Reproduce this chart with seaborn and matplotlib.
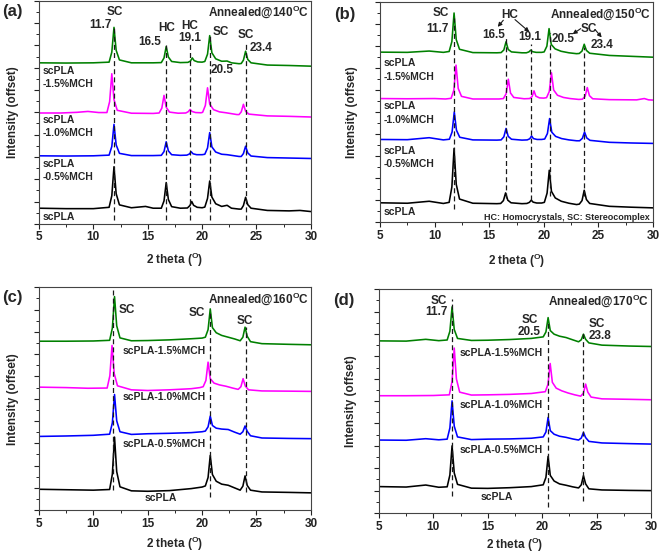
import numpy as np
import pandas as pd
import matplotlib
matplotlib.use("Agg")
import matplotlib.pyplot as plt
import seaborn as sns
from matplotlib.ticker import MultipleLocator

sns.set_theme(style="ticks")
plt.rcParams['font.family'] = ['Liberation Sans', 'DejaVu Sans']
plt.rcParams['font.weight'] = 'bold'
plt.rcParams['axes.labelweight'] = 'bold'
plt.rcParams['mathtext.fontset'] = 'custom'
plt.rcParams['mathtext.bf'] = 'Liberation Sans:bold'

BLACK, BLUE, MAGENTA, GREEN = "#000000", "#0000ff", "#ff00ff", "#008000"

# ---- (a) annealed at 140 C ----
a_x_scpla = [5.0, 7.5, 10.0, 11.45, 11.7, 11.9, 12.1, 12.4, 13.5, 14.8, 15.5, 16.25, 16.5, 16.7, 16.9, 17.2, 18.0, 18.65, 18.88, 19.05, 19.22, 19.55, 20.0, 20.25, 20.5, 20.7, 20.9, 21.25, 21.8, 22.3, 22.7, 23.4, 23.6, 23.8, 24.0, 24.2, 24.5, 26.0, 28.0, 29.0, 30.0]
a_y_scpla = [0.70, 0.68, 0.68, 0.74, 1.26, 2.56, 1.35, 0.85, 0.72, 0.78, 0.70, 0.70, 1.03, 1.85, 1.09, 0.77, 0.70, 0.71, 0.82, 1.00, 0.83, 0.74, 0.72, 0.75, 1.14, 1.92, 1.20, 0.90, 0.78, 0.83, 0.70, 0.66, 0.66, 0.82, 1.19, 0.86, 0.70, 0.60, 0.58, 0.60, 0.55]
a_x_05 = [5.0, 7.5, 10.0, 11.45, 11.7, 11.9, 12.1, 12.4, 13.5, 15.5, 16.25, 16.5, 16.7, 16.9, 17.2, 18.0, 18.6, 18.83, 19.0, 19.17, 19.5, 20.0, 20.25, 20.5, 20.7, 20.9, 21.25, 21.8, 22.3, 23.4, 23.6, 23.8, 24.0, 24.2, 24.5, 26.0, 28.0, 30.0]
a_y_05 = [3.05, 3.04, 3.05, 3.08, 3.47, 4.46, 3.54, 3.16, 3.06, 3.06, 3.07, 3.24, 3.68, 3.27, 3.10, 3.07, 3.08, 3.13, 3.23, 3.14, 3.10, 3.10, 3.12, 3.40, 4.09, 3.45, 3.22, 3.12, 3.10, 3.02, 3.02, 3.15, 3.48, 3.18, 3.04, 2.97, 2.95, 2.93]
a_x_10 = [5.0, 7.0, 8.5, 9.5, 10.5, 11.25, 11.5, 11.7, 11.9, 12.2, 13.5, 15.5, 16.05, 16.3, 16.5, 16.7, 17.0, 17.8, 18.5, 18.73, 18.9, 19.07, 19.4, 19.9, 20.05, 20.3, 20.5, 20.7, 21.05, 21.6, 22.2, 23.2, 23.4, 23.6, 23.8, 24.0, 24.3, 26.0, 28.0, 30.0]
a_y_10 = [4.97, 4.97, 5.00, 5.04, 4.99, 4.99, 5.48, 6.73, 5.57, 5.09, 4.96, 4.95, 4.97, 5.19, 5.76, 5.23, 5.01, 4.96, 4.97, 5.03, 5.13, 5.04, 4.99, 4.98, 5.00, 5.31, 6.10, 5.37, 5.12, 5.02, 4.98, 4.90, 4.90, 5.02, 5.36, 5.05, 4.92, 4.84, 4.82, 4.79]
a_x_15 = [5.0, 7.5, 10.0, 11.45, 11.7, 11.9, 12.1, 12.4, 13.5, 15.5, 16.25, 16.5, 16.7, 16.9, 17.2, 18.0, 18.7, 18.93, 19.1, 19.27, 19.6, 20.0, 20.25, 20.5, 20.7, 20.9, 21.25, 21.8, 22.3, 22.7, 23.4, 23.6, 23.8, 24.0, 24.2, 24.5, 26.0, 28.0, 30.0]
a_y_15 = [7.22, 7.21, 7.22, 7.25, 7.70, 8.81, 7.78, 7.35, 7.22, 7.22, 7.23, 7.44, 7.95, 7.48, 7.28, 7.23, 7.24, 7.30, 7.44, 7.32, 7.26, 7.25, 7.28, 7.61, 8.44, 7.67, 7.40, 7.29, 7.30, 7.22, 7.18, 7.19, 7.34, 7.74, 7.37, 7.22, 7.12, 7.10, 7.07]
a_dash_x = [11.9, 16.7, 18.85, 20.7, 24.0]
a_dash_top = [8.8, 8.0, 8.1, 8.5, 8.05]
a_dash_bot = [0.18, 0.18, 0.18, 0.18, 0.18]

# ---- (b) annealed at 150 C ----
b_x_scpla = [5.0, 7.5, 9.5, 10.8, 11.33, 11.58, 11.78, 11.98, 12.28, 13.5, 15.7, 16.05, 16.3, 16.5, 16.7, 17.0, 18.0, 18.45, 18.68, 18.85, 19.02, 19.35, 19.8, 20.05, 20.3, 20.5, 20.7, 21.05, 21.6, 22.3, 23.0, 23.25, 23.5, 23.7, 23.9, 24.2, 26.0, 28.0, 30.0]
b_y_scpla = [0.88, 0.86, 0.95, 0.85, 0.90, 1.60, 3.35, 1.72, 1.05, 0.86, 0.84, 0.85, 0.98, 1.33, 1.00, 0.88, 0.84, 0.85, 0.90, 1.00, 0.91, 0.87, 0.87, 0.90, 1.32, 2.36, 1.40, 1.10, 0.95, 0.86, 0.80, 0.82, 0.98, 1.45, 1.03, 0.85, 0.72, 0.68, 0.65]
b_x_05 = [5.0, 7.5, 9.5, 10.8, 11.35, 11.6, 11.8, 12.0, 12.3, 13.5, 15.7, 16.09, 16.34, 16.54, 16.74, 17.04, 18.0, 18.48, 18.71, 18.88, 19.05, 19.38, 19.8, 20.08, 20.33, 20.53, 20.73, 21.08, 21.63, 22.3, 23.0, 23.28, 23.53, 23.73, 23.93, 24.23, 26.0, 28.0, 30.0]
b_y_05 = [3.76, 3.75, 3.84, 3.74, 3.77, 4.10, 5.01, 4.18, 3.86, 3.74, 3.73, 3.74, 3.88, 4.26, 3.90, 3.77, 3.73, 3.74, 3.79, 3.92, 3.80, 3.76, 3.76, 3.78, 4.03, 4.71, 4.09, 3.90, 3.80, 3.74, 3.70, 3.70, 3.81, 4.10, 3.83, 3.72, 3.63, 3.60, 3.58]
b_x_10 = [5.0, 7.5, 10.0, 11.0, 11.51, 11.76, 11.96, 12.16, 12.46, 13.5, 15.9, 16.3, 16.55, 16.75, 16.95, 17.25, 18.2, 18.7, 18.93, 19.1, 19.27, 19.6, 20.0, 20.25, 20.5, 20.7, 20.9, 21.25, 21.8, 22.4, 23.2, 23.53, 23.78, 23.98, 24.18, 24.48, 26.0, 28.5, 29.2, 29.6, 30.0]
b_y_10 = [5.62, 5.61, 5.62, 5.60, 5.63, 6.00, 7.14, 6.08, 5.72, 5.60, 5.60, 5.62, 5.84, 6.50, 5.87, 5.67, 5.61, 5.62, 5.71, 5.97, 5.73, 5.65, 5.64, 5.66, 5.94, 6.79, 6.01, 5.77, 5.67, 5.62, 5.58, 5.59, 5.72, 6.12, 5.75, 5.61, 5.57, 5.56, 5.62, 5.56, 5.55]
b_x_15 = [5.0, 7.5, 9.5, 10.8, 11.33, 11.58, 11.78, 11.98, 12.28, 13.5, 15.7, 16.09, 16.34, 16.54, 16.74, 17.04, 18.0, 18.4, 18.63, 18.8, 18.97, 19.3, 19.8, 20.03, 20.28, 20.48, 20.68, 21.03, 21.58, 22.3, 23.0, 23.25, 23.5, 23.7, 23.9, 24.2, 26.0, 28.0, 30.0]
b_y_15 = [7.73, 7.72, 7.78, 7.72, 7.76, 8.21, 9.51, 8.30, 7.86, 7.71, 7.70, 7.71, 7.83, 8.20, 7.85, 7.74, 7.70, 7.70, 7.74, 7.82, 7.75, 7.72, 7.72, 7.74, 8.00, 8.80, 8.08, 7.88, 7.77, 7.70, 7.66, 7.67, 7.78, 8.09, 7.81, 7.68, 7.58, 7.54, 7.50]
b_dash_x = [11.78, 16.52, 18.8, 20.55, 23.72]
b_dash_top = [9.3, 8.4, 8.1, 8.6, 7.95]
b_dash_bot = [0.6, 1.1, 1.0, 1.2, 1.2]

# ---- (c) annealed at 160 C ----
c_x = [5.0, 7.5, 10.0, 11.5, 11.75, 11.95, 12.15, 12.45, 13.5, 15.0, 17.0, 19.0, 20.0, 20.3, 20.55, 20.75, 20.95, 21.3, 21.8, 22.4, 23.0, 23.5, 23.75, 23.95, 24.15, 24.45, 25.5, 28.0, 30.0]
c_y_scpla = [0.94, 0.92, 0.90, 0.93, 1.62, 3.28, 1.73, 1.05, 0.87, 0.85, 0.88, 0.97, 1.04, 1.09, 1.47, 2.46, 1.60, 1.30, 1.17, 1.12, 1.00, 0.90, 1.08, 1.54, 1.11, 0.90, 0.82, 0.80, 0.78]
c_y_05 = [3.31, 3.33, 3.36, 3.41, 3.92, 5.19, 4.01, 3.52, 3.40, 3.43, 3.45, 3.48, 3.52, 3.55, 3.74, 4.22, 3.80, 3.68, 3.64, 3.62, 3.50, 3.41, 3.52, 3.78, 3.54, 3.34, 3.24, 3.22, 3.21]
c_y_15 = [7.58, 7.58, 7.59, 7.62, 8.17, 9.58, 8.27, 7.73, 7.60, 7.61, 7.64, 7.69, 7.72, 7.76, 8.10, 9.03, 8.19, 7.96, 7.84, 7.76, 7.68, 7.60, 7.76, 8.21, 7.80, 7.56, 7.47, 7.44, 7.42]
c_x_10 = [5.0, 7.5, 9.5, 11.27, 11.52, 11.72, 11.92, 12.22, 13.5, 15.0, 17.0, 19.0, 19.8, 20.1, 20.35, 20.55, 20.75, 21.1, 21.6, 22.2, 22.8, 23.32, 23.57, 23.77, 23.97, 24.27, 25.5, 28.0, 30.0]
c_y_10 = [5.52, 5.50, 5.47, 5.48, 6.03, 7.39, 6.13, 5.58, 5.40, 5.37, 5.40, 5.45, 5.50, 5.54, 5.82, 6.64, 5.90, 5.70, 5.62, 5.56, 5.48, 5.42, 5.54, 5.90, 5.57, 5.40, 5.35, 5.34, 5.33]
c_dash_x = [11.85, 20.7, 24.0]
c_dash_top = [10.0, 9.0, 8.2]
c_dash_bot = [0.9, 0.6, 0.82]

# ---- (d) annealed at 170 C ----
d_x = [5.0, 7.5, 9.3, 10.5, 11.27, 11.52, 11.72, 11.92, 12.22, 13.5, 15.0, 17.0, 19.0, 20.1, 20.35, 20.55, 20.75, 21.1, 21.6, 22.2, 22.8, 23.35, 23.6, 23.8, 24.0, 24.3, 25.5, 28.0, 30.0]
d_y_scpla = [1.18, 1.16, 1.25, 1.15, 1.17, 1.70, 3.00, 1.79, 1.28, 1.11, 1.10, 1.13, 1.18, 1.26, 1.59, 2.53, 1.68, 1.43, 1.30, 1.24, 1.17, 1.12, 1.26, 1.67, 1.30, 1.08, 1.03, 1.01, 1.00]
d_y_05 = [3.26, 3.25, 3.32, 3.27, 3.30, 3.80, 5.01, 3.88, 3.40, 3.28, 3.30, 3.31, 3.34, 3.40, 3.62, 4.27, 3.68, 3.52, 3.43, 3.38, 3.31, 3.26, 3.35, 3.60, 3.37, 3.20, 3.13, 3.10, 3.08]
d_y_15 = [7.69, 7.68, 7.76, 7.70, 7.73, 8.12, 9.21, 8.20, 7.80, 7.71, 7.72, 7.75, 7.80, 7.87, 8.09, 8.73, 8.15, 7.99, 7.90, 7.84, 7.74, 7.65, 7.74, 7.99, 7.76, 7.60, 7.50, 7.46, 7.44]
d_x_10 = [5.0, 7.5, 10.0, 11.47, 11.72, 11.92, 12.12, 12.42, 13.5, 15.0, 17.0, 19.0, 20.29, 20.54, 20.74, 20.94, 21.29, 21.8, 22.4, 23.0, 23.55, 23.8, 24.0, 24.2, 24.5, 25.5, 28.0, 30.0]
d_y_10 = [5.24, 5.24, 5.25, 5.28, 5.88, 7.37, 5.99, 5.40, 5.27, 5.28, 5.30, 5.34, 5.42, 5.75, 6.68, 5.84, 5.58, 5.46, 5.36, 5.28, 5.22, 5.36, 5.76, 5.40, 5.18, 5.10, 5.08, 5.06]
d_dash_x = [11.75, 20.55, 23.8]
d_dash_top = [9.55, 8.5, 8.07]
d_dash_bot = [0.77, 0.25, 0.52]

FS = 8.5
deg = r"$^\mathbf{O}$"

fig = plt.figure(figsize=(6.6, 5.54), dpi=100)
ax_a = fig.add_axes([0.059, 0.596, 0.412, 0.4025])
ax_b = fig.add_axes([0.5758, 0.599, 0.4136, 0.397])
ax_c = fig.add_axes([0.059, 0.079, 0.412, 0.4025])
ax_d = fig.add_axes([0.5742, 0.074, 0.412, 0.404])


def setup(ax, curves, dx, dtop, dbot, temp, letter, letter_xy, ylab_x, xlab_y):
    for x, y, c in curves:
        sns.lineplot(x=x, y=y, ax=ax, color=c, lw=1.15, estimator=None, sort=False)
    ax.vlines(dx, dbot, dtop, colors='k', linestyles=(0, (4, 2.5)), lw=0.9)
    ax.set_xlim(5, 30)
    ax.set_ylim(0, 10)
    ax.xaxis.set_major_locator(MultipleLocator(5))
    ax.xaxis.set_minor_locator(MultipleLocator(2.5))
    ax.yaxis.set_major_locator(MultipleLocator(1))
    ax.yaxis.set_minor_locator(MultipleLocator(0.5))
    ax.tick_params(which='major', direction='out', length=3.5, width=0.8, pad=2,
                   labelsize=FS, colors='#222222')
    ax.tick_params(which='minor', direction='out', length=2, width=0.7)
    ax.set_yticklabels([])
    for s in ax.spines.values():
        s.set_linewidth(0.8)
        s.set_color('#444444')
        s.set_visible(True)
    ax.set_xlabel("2 theta (" + deg + ")", fontsize=FS, fontweight='bold')
    ax.set_ylabel("Intensity (offset)", fontsize=FS, fontweight='bold')
    ax.xaxis.set_label_coords(0.5, xlab_y)
    ax.yaxis.set_label_coords(ylab_x, 0.5)
    ax.text(29.8, 9.5, "Annealed@" + temp + deg + "C", ha='right', va='center',
            fontsize=FS, fontweight='bold')
    ax.text(letter_xy[0], letter_xy[1], letter, transform=ax.transAxes, ha='center',
            va='center', fontsize=12, fontweight='bold')


setup(ax_a, [(a_x_scpla, a_y_scpla, BLACK), (a_x_05, a_y_05, BLUE),
             (a_x_10, a_y_10, MAGENTA), (a_x_15, a_y_15, GREEN)],
      a_dash_x, a_dash_top, a_dash_bot, "140", "(a)", (-0.097, 0.953), -0.075, -0.122)
setup(ax_b, [(b_x_scpla, b_y_scpla, BLACK), (b_x_05, b_y_05, BLUE),
             (b_x_10, b_y_10, MAGENTA), (b_x_15, b_y_15, GREEN)],
      b_dash_x, b_dash_top, b_dash_bot, "150", "(b)", (-0.128, 0.945), -0.08, -0.135)
setup(ax_c, [(c_x, c_y_scpla, BLACK), (c_x, c_y_05, BLUE),
             (c_x_10, c_y_10, MAGENTA), (c_x, c_y_15, GREEN)],
      c_dash_x, c_dash_top, c_dash_bot, "160", "(c)", (-0.097, 0.953), -0.075, -0.11)
setup(ax_d, [(d_x, d_y_scpla, BLACK), (d_x, d_y_05, BLUE),
             (d_x_10, d_y_10, MAGENTA), (d_x, d_y_15, GREEN)],
      d_dash_x, d_dash_top, d_dash_bot, "170", "(d)", (-0.128, 0.951), -0.08, -0.1)

SFS = 7.5
kw = dict(fontsize=FS, fontweight='bold', ha='center', va='center')

# (a) annotations
ax_a.text(11.95, 9.5, "SC", **kw)
ax_a.text(11.65, 8.9, "11.7", fontsize=FS, fontweight='bold', ha='right', va='center')
ax_a.text(15.15, 8.15, "16.5", **kw)
ax_a.text(16.7, 8.8, "HC", **kw)
ax_a.text(18.85, 8.85, "HC", **kw)
ax_a.text(18.9, 8.35, "19.1", **kw)
ax_a.text(21.7, 8.6, "SC", **kw)
ax_a.text(24.0, 8.45, "SC", **kw)
ax_a.text(25.4, 7.9, "23.4", **kw)
ax_a.text(21.85, 6.9, "20.5", **kw)
for txt, yy in [("scPLA\n-1.5%MCH", 6.55), ("scPLA\n-1.0%MCH", 4.38),
                ("scPLA\n-0.5%MCH", 2.38), ("scPLA", 0.3)]:
    ax_a.text(5.37, yy, txt, fontsize=SFS, fontweight='bold', ha='left', va='center',
              linespacing=1.35)

# (b) annotations
ax_b.text(10.56, 9.49, "SC", **kw)
ax_b.text(10.3, 8.8, "11.7", **kw)
ax_b.text(16.84, 9.41, "HC", **kw)
ax_b.text(15.37, 8.5, "16.5", **kw)
ax_b.text(18.74, 8.42, "19.1", **kw)
ax_b.text(24.08, 8.8, "SC", **kw)
ax_b.text(21.8, 8.35, "20.5", **kw)
ax_b.text(25.3, 8.05, "23.4", **kw)
arr = dict(arrowstyle='-|>', color='k', lw=0.8, mutation_scale=6, shrinkA=0, shrinkB=0)
ax_b.annotate("", xy=(15.78, 8.88), xytext=(16.29, 9.18), arrowprops=arr)
ax_b.annotate("", xy=(18.67, 8.65), xytext=(17.36, 9.21), arrowprops=arr)
ax_b.annotate("", xy=(22.64, 8.55), xytext=(23.38, 8.8), arrowprops=arr)
ax_b.annotate("", xy=(25.3, 8.4), xytext=(24.69, 8.76), arrowprops=arr)
ax_b.text(29.7, 0.2, "HC: Homocrystals, SC: Stereocomplex", fontsize=6.5,
          fontweight='bold', ha='right', va='center')
for txt, yy in [("scPLA\n-1.5%MCH", 6.93), ("scPLA\n-1.0%MCH", 4.97),
                ("scPLA\n-0.5%MCH", 2.94), ("scPLA", 0.47)]:
    ax_b.text(5.3, yy, txt, fontsize=SFS, fontweight='bold', ha='left', va='center',
              linespacing=1.45)

# (c) annotations
ax_c.text(12.3, 9.0, "SC", fontsize=FS, fontweight='bold', ha='left', va='center')
ax_c.text(19.5, 8.84, "SC", **kw)
ax_c.text(23.9, 8.48, "SC", **kw)
for txt, yy in [("scPLA-1.5%MCH", 7.13), ("scPLA-1.0%MCH", 5.1), ("scPLA-0.5%MCH", 2.96)]:
    ax_c.text(16.55, yy, txt, fontsize=SFS, fontweight='bold', ha='center', va='center')
ax_c.text(16.2, 0.55, "scPLA", fontsize=SFS, fontweight='bold', ha='center', va='center')

# (d) annotations
ax_d.text(10.5, 9.45, "SC", **kw)
ax_d.text(10.3, 8.96, "11.7", **kw)
ax_d.text(18.9, 8.62, "SC", **kw)
ax_d.text(18.8, 8.1, "20.5", **kw)
ax_d.text(25.0, 8.44, "SC", **kw)
ax_d.text(25.3, 7.92, "23.8", **kw)
for txt, yy in [("scPLA-1.5%MCH", 7.13), ("scPLA-1.0%MCH", 4.82), ("scPLA-0.5%MCH", 2.81)]:
    ax_d.text(16.2, yy, txt, fontsize=SFS, fontweight='bold', ha='center', va='center')
ax_d.text(15.85, 0.73, "scPLA", fontsize=SFS, fontweight='bold', ha='center', va='center')

fig.savefig("out.png", dpi=100)
